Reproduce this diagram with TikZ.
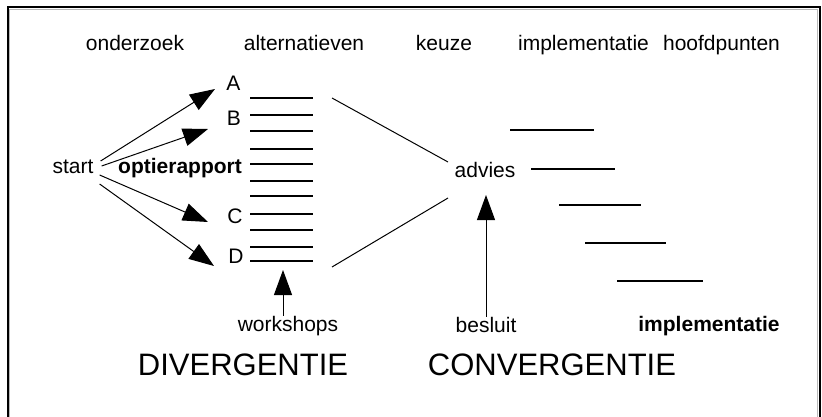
\documentclass[tikz,border=0pt]{standalone}
\usepackage{fontspec}
\setmainfont{Liberation Sans}
\newfontfamily\titlefont{Liberation Sans}
\usetikzlibrary{arrows.meta}
\begin{document}
\begin{tikzpicture}[x=1pt,y=-1pt,
  lbl/.style={inner sep=0pt, anchor=base, font=\fontsize{21}{24}\selectfont},
  lblb/.style={inner sep=0pt, anchor=base, font=\fontsize{21}{24}\selectfont\bfseries},
  big/.style={inner sep=0pt, anchor=base, font=\titlefont\fontsize{31}{36}\selectfont},
  conn/.style={line width=1pt},
  tri/.style={conn, -{Triangle[length=25pt,width=18pt]}},
  bar/.style={line width=1.7pt}
]
\useasboundingbox (0,0) rectangle (822,417);

% frame with a soft inner shadow
\draw[gray!55, line width=1pt] (9.8,417) -- (9.8,9.8) -- (817.2,9.8) -- (817.2,417);
\draw[line width=2pt] (7.5,417) -- (7.5,7.5) -- (819.5,7.5) -- (819.5,417);

% column headings
\node[lbl] (h1) at (135,51) {onderzoek};
\node[lbl] (h2) at (304,51) {alternatieven};
\node[lbl] (h3) at (444,51) {keuze};
\node[lbl] (h4) at (583.5,51) {implementatie};
\node[lbl] (h5) at (721.5,51) {hoofdpunten};

% alternatives: stack of bars
\foreach \y in {98,115,131,149,164,181,196,214,230,247,261}
  \draw[bar] (250,\y) -- (313,\y);

% start and the divergent arrows
\node[lbl] (start) at (73,174) {start};
\coordinate (tA) at (215,89);
\coordinate (tB) at (208,129);
\coordinate (tC) at (208,222);
\coordinate (tD) at (214,266);
\draw[tri] ([xshift=7pt,yshift=13pt]start.base east) -- (tA);
\draw[tri] ([xshift=8pt,yshift=8pt]start.base east) -- (tB);
\draw[tri] ([xshift=6pt,yshift=-1pt]start.base east) -- (tC);
\draw[tri] ([xshift=6pt,yshift=-10pt]start.base east) -- (tD);
\node[lblb] (opt) at (180,174) {optierapport};

\node[lbl] (A) at (233.5,91) {A};
\node[lbl] (B) at (234,126) {B};
\node[lbl] (C) at (235,223) {C};
\node[lbl] (D) at (236,263) {D};

% workshops feed the alternatives
\coordinate (wt) at (283,270);
\node[lbl] (ws) at (288,331) {workshops};
\draw[tri] (ws.north -| wt) -- (wt);

% convergence towards advice
\node[lbl] (adv) at (485,178) {advies};
\coordinate (u1) at (332,98);
\coordinate (u2) at (448,162);
\coordinate (l1) at (332,267);
\coordinate (l2) at (448,198);
\draw[conn] (u1) -- (u2);
\draw[conn] (l1) -- (l2);

\coordinate (bt) at (486,195);
\node[lbl] (bes) at (486,332) {besluit};
\draw[tri] (bes.north) -- (bt);

% main points of the implementation
\draw[bar] (510,130) -- (594,130);
\draw[bar] (531,169) -- (615,169);
\draw[bar] (559,205) -- (641,205);
\draw[bar] (585,243) -- (666,243);
\draw[bar] (617,281) -- (703,281);

\node[lblb] (impl) at (709,331) {implementatie};

% phase titles
\node[big] (div) at (243,375) {DIVERGENTIE};
\node[big] (conv) at (552,375) {CONVERGENTIE};
\end{tikzpicture}
\end{document}
